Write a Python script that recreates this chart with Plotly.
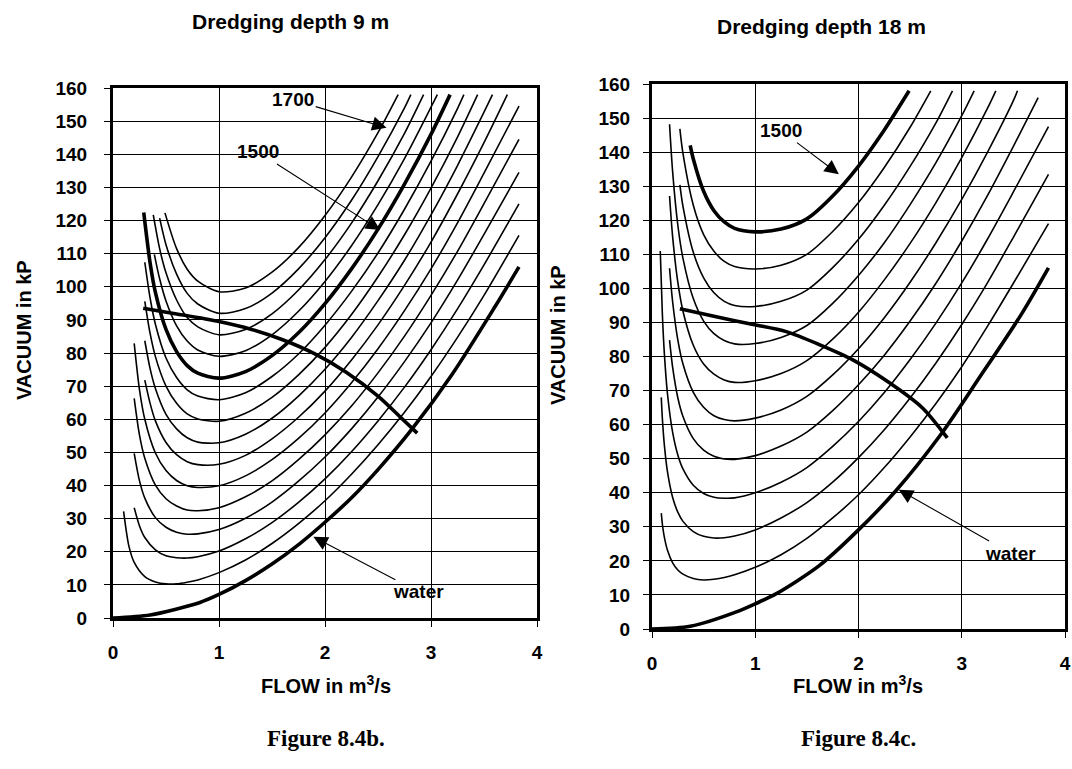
import plotly.graph_objects as go

W, H = 1072, 769

FLOW_TICKS = [0, 1, 2, 3, 4]
VAC_TICKS = list(range(0, 161, 10))

TITLE_LEFT = "Dredging depth 9 m"
TITLE_RIGHT = "Dredging depth 18 m"
CAPTION_LEFT = "Figure 8.4b."
CAPTION_RIGHT = "Figure 8.4c."

# ---------------- Left panel: dredging depth 9 m ----------------
L_X_1700 = [0.49, 0.6, 0.7, 0.8, 1.0, 1.25, 1.5, 1.75, 2.0, 2.25, 2.5, 2.69]
L_V_1700 = [122.3, 111.5, 105.3, 101.7, 98.5, 99.6, 104.4, 111.8, 121.5, 133.1, 146.5, 158]
L_X_1650 = [0.44, 0.5, 0.6, 0.7, 0.8, 1.0, 1.25, 1.5, 1.75, 2.0, 2.25, 2.5, 2.75, 2.81]
L_V_1650 = [120.7, 112.7, 103.8, 98.0, 94.8, 92.0, 93.4, 98.1, 105.4, 114.8, 126.1, 139.3, 154.0, 158]
L_X_1600 = [0.38, 0.44, 0.5, 0.6, 0.7, 0.8, 1.0, 1.25, 1.5, 1.75, 2.0, 2.25, 2.5, 2.75, 2.93]
L_V_1600 = [121.7, 111.5, 104.2, 96.0, 90.7, 87.9, 85.5, 87.1, 91.8, 99.0, 108.2, 119.2, 132.0, 146.3, 158]
L_X_1550 = [0.39, 0.44, 0.5, 0.6, 0.7, 0.8, 1.0, 1.25, 1.5, 1.75, 2.0, 2.25, 2.5, 2.75, 3.0, 3.06]
L_V_1550 = [109.8, 102.4, 95.7, 88.2, 83.6, 80.9, 79.0, 80.7, 85.5, 92.6, 101.6, 112.4, 124.8, 138.7, 154.2, 158]
L_X_1500 = [0.29, 0.35, 0.4, 0.5, 0.6, 0.7, 0.8, 1.0, 1.25, 1.5, 1.75, 2.0, 2.25, 2.5, 2.75, 3.0, 3.18]
L_V_1500 = [122.4, 107.2, 98.3, 87.1, 80.4, 76.2, 73.9, 72.4, 74.4, 79.2, 86.1, 94.9, 105.4, 117.4, 131.0, 146.0, 158]
L_X_1450 = [0.30, 0.35, 0.4, 0.5, 0.6, 0.7, 0.8, 1.0, 1.25, 1.5, 1.75, 2.0, 2.25, 2.5, 2.75, 3.0, 3.25, 3.31]
L_V_1450 = [107.4, 96.6, 88.7, 78.5, 72.6, 68.9, 67.0, 65.9, 68.0, 72.9, 79.7, 88.4, 98.6, 110.2, 123.4, 137.9, 153.8, 158]
L_X_1400 = [0.30, 0.35, 0.4, 0.5, 0.6, 0.7, 0.8, 1.0, 1.25, 1.5, 1.75, 2.0, 2.25, 2.5, 2.75, 3.0, 3.25, 3.44]
L_V_1400 = [95.6, 85.9, 78.9, 70.0, 64.8, 61.6, 60.1, 59.4, 61.8, 66.6, 73.4, 81.7, 91.6, 103.0, 115.7, 129.8, 145.2, 158]
L_X_1350 = [0.30, 0.35, 0.4, 0.5, 0.6, 0.7, 0.8, 1.0, 1.25, 1.5, 1.75, 2.0, 2.25, 2.5, 2.75, 3.0, 3.25, 3.5, 3.58]
L_V_1350 = [83.7, 75.3, 69.3, 61.5, 57.1, 54.4, 53.1, 52.9, 55.5, 60.3, 67.0, 75.1, 84.7, 95.8, 108.0, 121.7, 136.6, 152.7, 158]
L_X_1300 = [0.30, 0.35, 0.4, 0.5, 0.6, 0.7, 0.8, 1.0, 1.25, 1.5, 1.75, 2.0, 2.25, 2.5, 2.75, 3.0, 3.25, 3.5, 3.72]
L_V_1300 = [71.8, 64.8, 59.5, 53.0, 49.3, 47.2, 46.3, 46.4, 49.1, 54.1, 60.6, 68.5, 77.9, 88.5, 100.4, 113.5, 128.0, 143.5, 158]
L_X_LOW = [0.2, 0.25, 0.3, 0.4, 0.5, 0.6, 0.7, 0.8, 1.0, 1.25, 1.5, 1.75, 2.0, 2.25, 2.5, 2.75, 3.0, 3.25, 3.5, 3.83]
L_V_1250 = [82.9, 68.9, 60.0, 49.8, 44.5, 41.5, 39.9, 39.4, 39.9, 42.9, 47.8, 54.2, 61.9, 71.0, 81.3, 92.8, 105.4, 119.3, 134.3, 154.5]
L_V_1200 = [66.3, 55.2, 48.2, 40.1, 36.0, 33.8, 32.6, 32.4, 33.3, 36.6, 41.4, 47.8, 55.3, 64.0, 74.0, 85.1, 97.4, 110.7, 125.1, 144.5]
L_V_1150 = [49.7, 41.4, 36.2, 30.3, 27.4, 25.9, 25.3, 25.4, 26.7, 30.1, 35.0, 41.3, 48.6, 57.1, 66.7, 77.4, 89.1, 102.0, 115.8, 134.5]
L_V_1100 = [33.3, 27.8, 24.3, 20.6, 18.8, 18.2, 18.1, 18.5, 20.2, 23.9, 28.8, 34.9, 42.0, 50.2, 59.5, 69.7, 81.0, 93.3, 106.6, 125.0]
L_X_1050 = [0.1, 0.15, 0.2, 0.3, 0.4, 0.5, 0.6, 0.7, 0.8, 1.0, 1.25, 1.5, 1.75, 2.0, 2.25, 2.5, 2.75, 3.0, 3.25, 3.5, 3.83]
L_V_1050 = [32.2, 21.7, 16.8, 12.5, 10.9, 10.3, 10.3, 10.8, 11.5, 13.7, 17.5, 22.5, 28.5, 35.4, 43.4, 52.3, 62.1, 72.9, 84.7, 97.4, 115.5]
L_X_WATER = [0, 0.35, 0.82, 1.0, 1.25, 1.5, 1.76, 2.0, 2.26, 2.5, 2.82, 3.2, 3.6, 3.83]
L_V_WATER = [0, 0.9, 4.7, 7.1, 11.3, 16.3, 22.4, 28.9, 36.6, 44.8, 57.0, 73.6, 93.8, 106]
L_X_SYSTEM = [0.285, 0.6, 1.0, 1.3, 1.6, 1.9, 2.2, 2.5, 2.7, 2.87]
L_V_SYSTEM = [93.5, 91.8, 89.5, 87.2, 84.0, 79.8, 74.2, 67.0, 61.0, 55.8]

# ---------------- Right panel: dredging depth 18 m ----------------
R_X_1500 = [0.37, 0.4, 0.5, 0.6, 0.7, 0.8, 1.0, 1.25, 1.5, 1.75, 2.0, 2.25, 2.49]
R_V_1500 = [142.0, 138.0, 128.5, 122.8, 119.5, 117.6, 116.6, 117.4, 120.4, 127.1, 135.9, 146.5, 158]
R_X_1450 = [0.27, 0.3, 0.4, 0.5, 0.6, 0.7, 0.8, 1.0, 1.25, 1.5, 1.75, 2.0, 2.25, 2.5, 2.70]
R_V_1450 = [146.8, 139.6, 124.4, 115.8, 110.9, 107.9, 106.4, 105.7, 106.8, 110.0, 116.7, 125.2, 135.5, 147.3, 158]
R_X_1400 = [0.27, 0.3, 0.4, 0.5, 0.6, 0.7, 0.8, 1.0, 1.25, 1.5, 1.75, 2.0, 2.25, 2.5, 2.75, 2.91]
R_V_1400 = [130.4, 124.1, 110.6, 103.1, 98.7, 96.2, 95.0, 94.7, 96.2, 99.5, 106.1, 114.4, 124.4, 135.8, 148.6, 158]
R_X_1350 = [0.17, 0.2, 0.25, 0.3, 0.4, 0.5, 0.6, 0.7, 0.8, 1.0, 1.25, 1.5, 1.75, 2.0, 2.25, 2.5, 2.75, 3.0, 3.12]
R_V_1350 = [148.2, 134.2, 118.6, 108.8, 97.0, 90.4, 86.7, 84.7, 83.7, 83.8, 85.6, 89.1, 95.6, 103.8, 113.4, 124.6, 136.9, 150.7, 158]
R_X_1300 = [0.17, 0.2, 0.25, 0.3, 0.4, 0.5, 0.6, 0.7, 0.8, 1.0, 1.25, 1.5, 1.75, 2.0, 2.25, 2.5, 2.75, 3.0, 3.25, 3.33]
R_V_1300 = [127.1, 115.1, 101.8, 93.3, 83.3, 77.8, 74.8, 73.1, 72.4, 72.9, 75.0, 78.8, 85.1, 93.0, 102.5, 113.2, 125.2, 138.4, 152.9, 158]
R_X_1250 = [0.17, 0.2, 0.25, 0.3, 0.4, 0.5, 0.6, 0.7, 0.8, 1.0, 1.25, 1.5, 1.75, 2.0, 2.25, 2.5, 2.75, 3.0, 3.25, 3.5, 3.54]
R_V_1250 = [105.9, 96.0, 84.9, 77.8, 69.5, 65.1, 62.6, 61.5, 61.1, 61.9, 64.3, 68.3, 74.6, 82.3, 91.4, 101.8, 113.4, 126.1, 140.0, 155.1, 158]
R_X_1200 = [0.17, 0.2, 0.25, 0.3, 0.4, 0.5, 0.6, 0.7, 0.8, 1.0, 1.25, 1.5, 1.75, 2.0, 2.25, 2.5, 2.75, 3.0, 3.25, 3.5, 3.74]
R_V_1200 = [84.8, 76.8, 67.9, 62.4, 55.9, 52.5, 50.7, 49.9, 49.8, 50.9, 53.7, 57.8, 64.1, 71.7, 80.4, 90.4, 101.5, 113.9, 127.3, 141.7, 156]
R_X_1150 = [0.08, 0.1, 0.12, 0.15, 0.2, 0.25, 0.3, 0.4, 0.5, 0.6, 0.7, 0.8, 1.0, 1.25, 1.5, 1.75, 2.0, 2.25, 2.5, 2.75, 3.0, 3.25, 3.5, 3.84]
R_V_1150 = [111.0, 92.7, 80.7, 69.0, 57.7, 51.1, 47.0, 42.2, 39.8, 38.7, 38.4, 38.5, 40.0, 43.1, 47.4, 53.6, 60.9, 69.4, 79.1, 89.8, 101.6, 114.5, 128.3, 147.5]
R_X_LOW = [0.09, 0.1, 0.12, 0.15, 0.2, 0.25, 0.3, 0.4, 0.5, 0.6, 0.7, 0.8, 1.0, 1.25, 1.5, 1.75, 2.0, 2.25, 2.5, 2.75, 3.0, 3.25, 3.5, 3.84]
R_V_1100 = [68.0, 61.9, 53.9, 46.1, 38.6, 34.3, 31.6, 28.6, 27.2, 26.7, 26.8, 27.3, 29.1, 32.6, 37.1, 43.1, 50.3, 58.5, 67.8, 78.1, 89.4, 101.7, 115.0, 133.5]
R_V_1050 = [34.0, 30.9, 26.9, 23.1, 19.4, 17.3, 16.1, 14.8, 14.4, 14.6, 15.1, 15.9, 18.1, 21.8, 26.6, 32.6, 39.4, 47.4, 56.4, 66.2, 77.0, 88.9, 101.5, 119.0]
R_X_WATER = [0, 0.37, 0.85, 1.0, 1.2, 1.62, 1.99, 2.36, 2.79, 3.16, 3.58, 3.84]
R_V_WATER = [0, 0.8, 5.4, 7.4, 10.3, 18.6, 28.8, 40.5, 56.8, 73.3, 92.5, 106]
R_X_SYSTEM = [0.27, 0.6, 0.98, 1.3, 1.62, 1.94, 2.3, 2.62, 2.86]
R_V_SYSTEM = [94, 91.8, 89.4, 87.3, 83.5, 79.1, 72.3, 64.9, 56.1]

THIN, THICK = 1.6, 3.6

fig = go.Figure()


def add_curve(x, y, xa, ya, width):
    fig.add_trace(go.Scatter(
        x=x, y=y, mode="lines", xaxis=xa, yaxis=ya, showlegend=False,
        hoverinfo="skip",
        line=dict(color="black", width=width, shape="spline", smoothing=0.8),
    ))


left_curves = [
    (L_X_1700, L_V_1700, THIN), (L_X_1650, L_V_1650, THIN), (L_X_1600, L_V_1600, THIN),
    (L_X_1550, L_V_1550, THIN), (L_X_1500, L_V_1500, THICK), (L_X_1450, L_V_1450, THIN),
    (L_X_1400, L_V_1400, THIN), (L_X_1350, L_V_1350, THIN), (L_X_1300, L_V_1300, THIN),
    (L_X_LOW, L_V_1250, THIN), (L_X_LOW, L_V_1200, THIN), (L_X_LOW, L_V_1150, THIN),
    (L_X_LOW, L_V_1100, THIN), (L_X_1050, L_V_1050, THIN),
    (L_X_WATER, L_V_WATER, THICK), (L_X_SYSTEM, L_V_SYSTEM, THICK),
]
for x, y, w in left_curves:
    add_curve(x, y, "x", "y", w)

right_curves = [
    (R_X_1500, R_V_1500, THICK), (R_X_1450, R_V_1450, THIN), (R_X_1400, R_V_1400, THIN),
    (R_X_1350, R_V_1350, THIN), (R_X_1300, R_V_1300, THIN), (R_X_1250, R_V_1250, THIN),
    (R_X_1200, R_V_1200, THIN), (R_X_1150, R_V_1150, THIN), (R_X_LOW, R_V_1100, THIN),
    (R_X_LOW, R_V_1050, THIN), (R_X_WATER, R_V_WATER, THICK), (R_X_SYSTEM, R_V_SYSTEM, THICK),
]
for x, y, w in right_curves:
    add_curve(x, y, "x2", "y2", w)


def fx(px):
    return px / W


def fy(py):
    return 1 - py / H


SANS = "Liberation Sans, Arial, sans-serif"
TICKFONT = dict(family=SANS, size=19, color="black", weight="bold")
common = dict(
    showgrid=True, gridcolor="black", gridwidth=1, showline=True, linecolor="black",
    linewidth=3, mirror=True, ticks="outside", ticklen=6, tickcolor="black", tickwidth=1,
    zeroline=False, tickfont=TICKFONT, fixedrange=True, automargin=False,
    ticklabeloverflow="allow",
)

fig.update_layout(
    width=W, height=H, margin=dict(l=0, r=0, t=0, b=0, autoexpand=False),
    paper_bgcolor="white", plot_bgcolor="white", showlegend=False,
    xaxis=dict(domain=[fx(113), fx(537)], range=[0, 4], tickvals=FLOW_TICKS, anchor="y",
               ticklabelstandoff=9, **common),
    yaxis=dict(domain=[fy(618), fy(88)], range=[0, 160], tickvals=VAC_TICKS, anchor="x",
               ticklabelstandoff=13, **common),
    xaxis2=dict(domain=[fx(652), fx(1065)], range=[0, 4], tickvals=FLOW_TICKS, anchor="y2",
                ticklabelstandoff=9, **common),
    yaxis2=dict(domain=[fy(629), fy(84)], range=[0, 160], tickvals=VAC_TICKS, anchor="x2",
                ticklabelstandoff=9, **common),
)

BOLD = dict(family=SANS, size=20, color="black", weight="bold")
TITLEFONT = dict(family=SANS, size=21, color="black", weight="bold")
SERIF = dict(family="Liberation Serif, Times New Roman, serif", size=23, color="black", weight="bold")


def ptext(text, px, py, font, angle=0, anchor="center"):
    fig.add_annotation(text=text, x=fx(px), y=fy(py), xref="paper", yref="paper",
                       showarrow=False, xanchor=anchor, yanchor="middle",
                       font=font, textangle=angle)


ptext(TITLE_LEFT, 190, 22, TITLEFONT, anchor="left")
ptext(TITLE_RIGHT, 715, 27, TITLEFONT, anchor="left")
ptext("VACUUM in kP", 24, 330, BOLD, -90)
ptext("VACUUM in kP", 558, 335, BOLD, -90)
ptext("FLOW in m<sup>3</sup>/s", 326, 684, BOLD)
ptext("FLOW in m<sup>3</sup>/s", 858, 684, BOLD)
ptext(CAPTION_LEFT, 326, 738, SERIF)
ptext(CAPTION_RIGHT, 858, 738, SERIF)

LABELFONT = dict(family=SANS, size=19, color="black", weight="bold")


def arrow_label(text, tip_x, tip_y, txt_x, txt_y, xa, ya):
    fig.add_annotation(text=text, x=tip_x, y=tip_y, ax=txt_x, ay=txt_y, xref=xa, yref=ya,
                       axref=xa, ayref=ya, showarrow=True, arrowhead=2, arrowsize=2.6,
                       arrowwidth=1.1, arrowcolor="black", font=LABELFONT)


arrow_label("1700", 2.58, 148, 1.70, 156.4, "x", "y")
arrow_label("1500", 2.52, 117.1, 1.37, 140.7, "x", "y")
arrow_label("water", 1.89, 24.5, 2.88, 7.9, "x", "y")
arrow_label("1500", 1.81, 133.5, 1.25, 146.3, "x2", "y2")
arrow_label("water", 2.39, 40.9, 3.47, 22.3, "x2", "y2")

# Remove the browser's default 8 px page margin so the figure fills the window exactly.
fig.write_html(
    "out.html",
    config={"displayModeBar": False, "displaylogo": False},
    post_script="document.body.style.margin='0px';document.body.style.overflow='hidden';",
)
